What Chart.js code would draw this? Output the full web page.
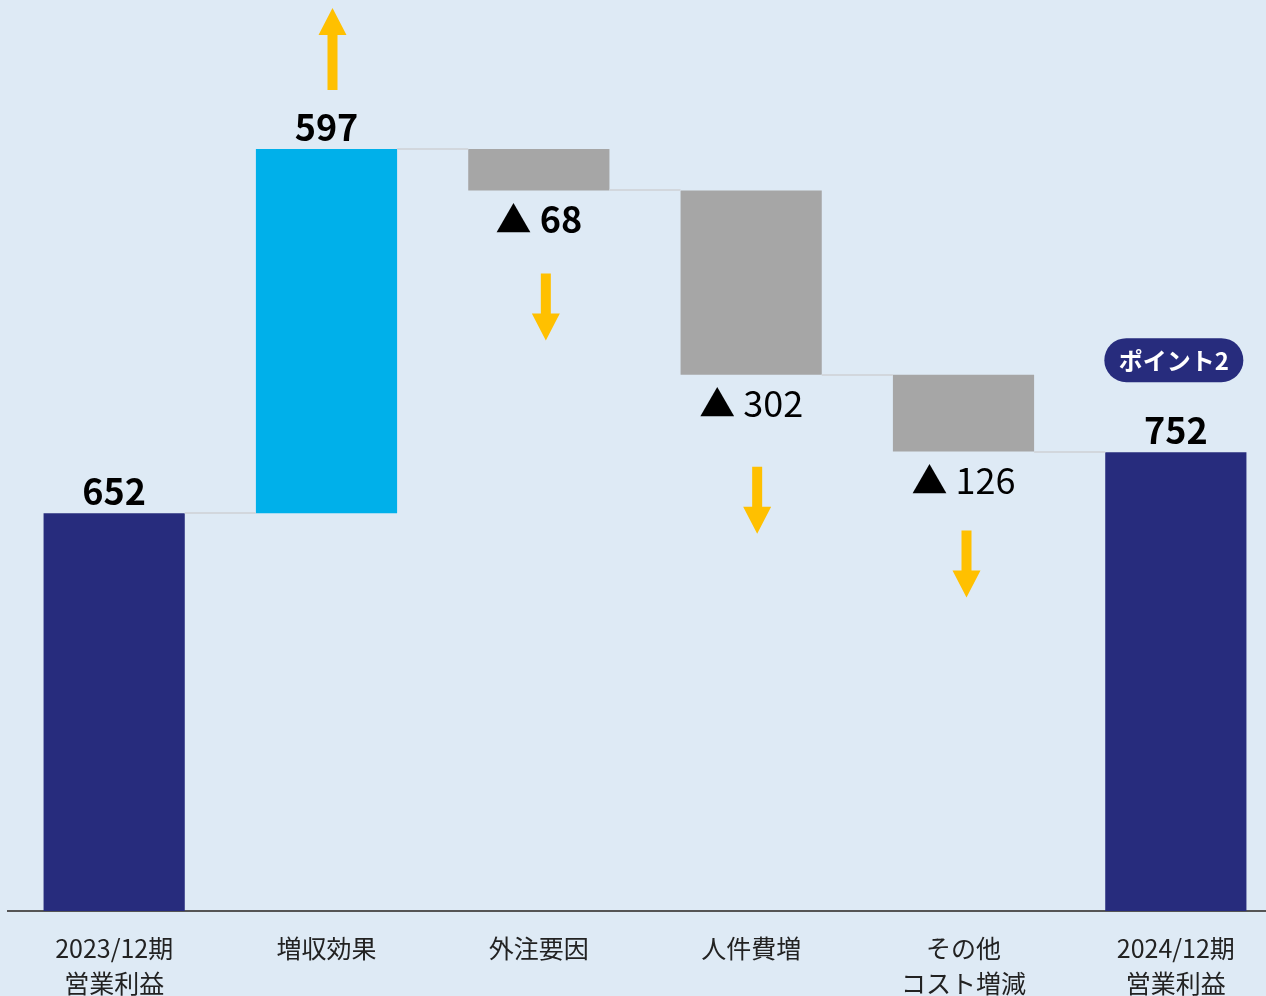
<!DOCTYPE html>
<html lang="ja">
<head>
<meta charset="utf-8">
<script src="https://cdn.jsdelivr.net/npm/chart.js@4/dist/chart.umd.min.js"></script>
<style>
  html, body { margin: 0; padding: 0; background: #deeaf5; overflow: hidden; width: 1266px; height: 996px; }
  canvas { display: block; }
</style>
</head>
<body>
<canvas id="c" width="1290" height="1021"></canvas>
<script>
// ---- data ----
const categories = [['2023/12期', '営業利益'], '増収効果', '外注要因', '人件費増', ['その他', 'コスト増減'], ['2024/12期', '営業利益']];
const startValue = 652;
const changes = [597, -68, -302, -126];
const endValue = 752;
const yMax = 1493;

// ---- derived floating ranges ----
const ranges = [[0, startValue]];
let running = startValue;
for (const d of changes) {
  ranges.push([running, running + d]);
  running += d;
}
ranges.push([0, endValue]);
const labelValues = [startValue, ...changes, endValue];

const NAVY = '#272c7d', CYAN = '#00b0ea', GRAY = '#a6a6a6', ORANGE = '#ffc000';
const barColors = labelValues.map((v, i) => (i === 0 || i === labelValues.length - 1) ? NAVY : (v >= 0 ? CYAN : GRAY));
const FONT = "'Noto Sans CJK JP', 'Noto Sans', sans-serif";
const boldLabel = [true, true, true, false, false, true];
const arrowGap = [null, 59, 83, 92, 79, null];
const arrowShift = [0, 6, 7, 6, 3, 0];

const decor = {
  id: 'decor',
  afterDatasetsDraw(chart) {
    const ctx = chart.ctx;
    const meta = chart.getDatasetMeta(0);
    const y = chart.scales.y;
    const bars = meta.data;
    ctx.save();
    // connectors
    ctx.strokeStyle = '#d2d7dd';
    ctx.lineWidth = 2;
    for (let i = 0; i < bars.length - 1; i++) {
      const level = ranges[i][1];
      const yy = Math.round(y.getPixelForValue(level));
      const x1 = bars[i].x + bars[i].width / 2;
      const x2 = bars[i + 1].x - bars[i + 1].width / 2;
      ctx.beginPath();
      ctx.moveTo(x1, yy);
      ctx.lineTo(x2, yy);
      ctx.stroke();
    }
    // value labels
    ctx.fillStyle = '#000';
    ctx.textAlign = 'center';
    bars.forEach((b, i) => {
      const v = labelValues[i];
      ctx.font = (boldLabel[i] ? 'bold ' : '') + '36px ' + FONT;
      const top = Math.min(b.y, b.base), bottom = Math.max(b.y, b.base);
      if (v >= 0) {
        ctx.textBaseline = 'alphabetic';
        ctx.fillText(String(v), b.x, top - 8);
      } else {
        ctx.textBaseline = 'middle';
        ctx.fillText('▲ ' + Math.abs(v), b.x, bottom + 29);
      }
    });
    // arrows
    ctx.fillStyle = ORANGE;
    const shaftW = 10, headW = 28, headL = 27, len = 82;
    bars.forEach((b, i) => {
      if (arrowGap[i] == null) return;
      const v = labelValues[i];
      const top = Math.min(b.y, b.base), bottom = Math.max(b.y, b.base);
      const ax = b.x + arrowShift[i];
      ctx.beginPath();
      if (v >= 0) {
        const y0 = top - arrowGap[i];
        const y1 = y0 - len;
        ctx.moveTo(ax - shaftW / 2, y0);
        ctx.lineTo(ax - shaftW / 2, y1 + headL);
        ctx.lineTo(ax - headW / 2, y1 + headL);
        ctx.lineTo(ax, y1);
        ctx.lineTo(ax + headW / 2, y1 + headL);
        ctx.lineTo(ax + shaftW / 2, y1 + headL);
        ctx.lineTo(ax + shaftW / 2, y0);
      } else {
        const dlen = 67;
        const y0 = bottom + arrowGap[i];
        const y1 = y0 + dlen;
        ctx.moveTo(ax - shaftW / 2, y0);
        ctx.lineTo(ax - shaftW / 2, y1 - headL);
        ctx.lineTo(ax - headW / 2, y1 - headL);
        ctx.lineTo(ax, y1);
        ctx.lineTo(ax + headW / 2, y1 - headL);
        ctx.lineTo(ax + shaftW / 2, y1 - headL);
        ctx.lineTo(ax + shaftW / 2, y0);
      }
      ctx.closePath();
      ctx.fill();
    });
    // badge over last bar
    const lb = bars[bars.length - 1];
    const bw = 139, bh = 44;
    const bx = lb.x - 2 - bw / 2, by = Math.min(lb.y, lb.base) - 92 - bh / 2;
    ctx.fillStyle = NAVY;
    ctx.beginPath();
    ctx.roundRect(bx, by, bw, bh, bh / 2);
    ctx.fill();
    ctx.fillStyle = '#fff';
    ctx.font = 'bold 24px ' + FONT;
    ctx.textAlign = 'center';
    ctx.textBaseline = 'middle';
    ctx.fillText('ポイント2', bx + bw / 2, by + bh / 2 + 1);
    ctx.restore();
  }
};

new Chart(document.getElementById('c'), {
  type: 'bar',
  data: {
    labels: categories,
    datasets: [{
      data: ranges,
      backgroundColor: barColors,
      borderWidth: 0,
      borderSkipped: false,
      barPercentage: 1,
      categoryPercentage: 0.665
    }]
  },
  options: {
    responsive: false,
    animation: false,
    devicePixelRatio: 1,
    layout: { padding: { left: 8, right: 8, top: 0, bottom: 0 } },
    plugins: { legend: { display: false }, tooltip: { enabled: false } },
    scales: {
      x: {
        grid: { display: false, drawTicks: false },
        border: { display: true, color: '#555555', width: 2 },
        ticks: {
          color: '#222222',
          padding: 20,
          font: { family: FONT, size: 25, lineHeight: 35 / 25 },
          maxRotation: 0,
          autoSkip: false
        }
      },
      y: {
        display: false,
        min: 0,
        max: yMax
      }
    }
  },
  plugins: [decor]
});
</script>
</body>
</html>
